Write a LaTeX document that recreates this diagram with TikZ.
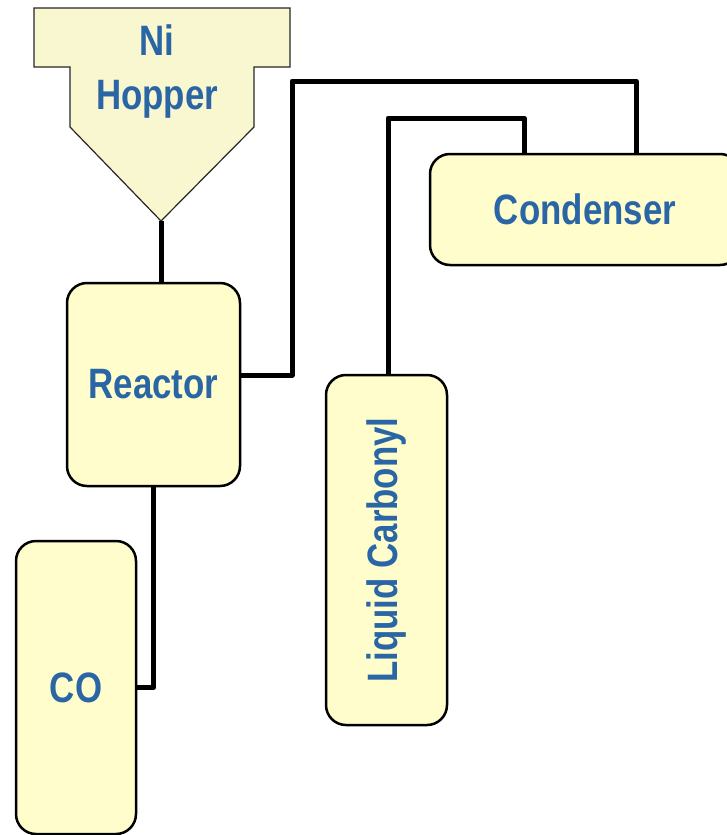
\documentclass[tikz,border=0pt]{standalone}
\usepackage{fontspec}
\newfontfamily\nf{Liberation Sans}[FakeStretch=0.82]
\definecolor{boxfill}{HTML}{FFFDCC}
\definecolor{hopfill}{HTML}{F9F7CF}
\definecolor{txt}{HTML}{2A66A6}
\tikzset{
  unit/.style={draw=black, line width=2.5pt, fill=boxfill, rounded corners=20pt, inner sep=0pt,
    font=\nf\bfseries\fontsize{42.5}{54}\selectfont, text=txt},
  pipe/.style={draw=black, line width=5pt, line join=round}
}
\begin{document}
\begin{tikzpicture}[x=1pt,y=-1pt]
\useasboundingbox (0,0) rectangle (727,835);
% hopper
\draw[fill=hopfill, draw=black!85, line width=1.2pt]
  (34,8) -- (290,8) -- (290,67) -- (254,67) -- (254,127) -- (161,221) -- (70,127) -- (70,67) -- (34,67) -- cycle;
\coordinate (tip) at (161,221);
\node[font=\nf\bfseries\fontsize{42.5}{54}\selectfont, text=txt, align=center] (hopper) at (157,72) {Ni\\Hopper};
% units
\node[unit, minimum width=173pt, minimum height=203pt] (reactor) at (153.5,384.5) {Reactor};
\node[unit, minimum width=120pt, minimum height=293pt] (co) at (76,687.5) {CO};
\node[unit, minimum width=121pt, minimum height=350pt] (liq) at (386.5,550) {\rotatebox{90}{Liquid Carbonyl}};
\node[unit, minimum width=310pt, minimum height=111pt] (cond) at (585,209.5) {Condenser};
% pipes
\coordinate (a1) at (292,81);
\coordinate (a2) at (388,118);
\draw[pipe] (tip) -- (tip |- reactor.north);
\draw[pipe] (co.east) -| (reactor.south);
\draw[pipe] ([yshift=9.5pt]reactor.east) -| (a1) -| ([xshift=51pt]cond.north);
\draw[pipe] ([xshift=1.5pt]liq.north) |- (a2) -| ([xshift=-61pt]cond.north);
\end{tikzpicture}
\end{document}
